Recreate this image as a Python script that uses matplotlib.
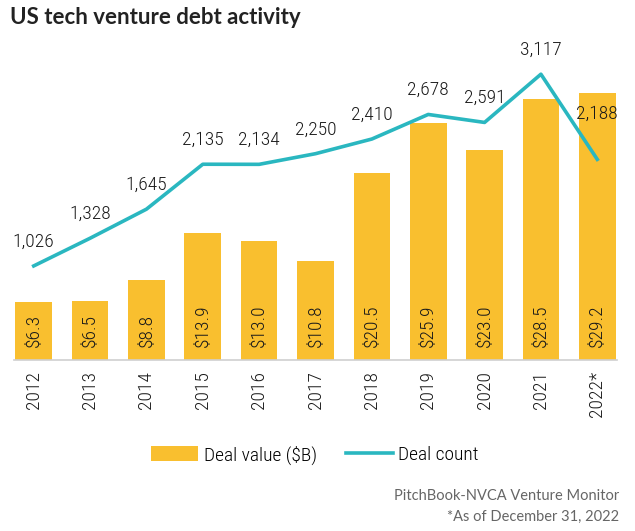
import matplotlib.pyplot as plt
from matplotlib import font_manager
from matplotlib.patches import Patch
from matplotlib.lines import Line2D

years = ['2012', '2013', '2014', '2015', '2016', '2017', '2018', '2019', '2020', '2021', '2022*']
deal_value = [6.3, 6.5, 8.8, 13.9, 13.0, 10.8, 20.5, 25.9, 23.0, 28.5, 29.2]
deal_count = [1026, 1328, 1645, 2135, 2134, 2250, 2410, 2678, 2591, 3117, 2188]

BAR = '#F9BF2F'
LINE = '#2AB7C0'

names = {f.name for f in font_manager.fontManager.ttflist}
wanted = ['Roboto Condensed', 'PT Sans Narrow', 'Archivo Narrow', 'Open Sans Condensed',
          'Barlow Condensed', 'Liberation Sans Narrow']
narrow = [n for n in wanted if n in names][:1] + ['DejaVu Sans']
lbl = dict(family=narrow, fontweight='light', color='#1a1a1a')

fig = plt.figure(figsize=(6.35, 5.31), dpi=100)
ax = fig.add_axes([14 / 635, 171 / 531, 603 / 635, 320 / 531])
ax2 = ax.twinx()

x = range(len(years))
ax.bar(x, deal_value, width=0.65, color=BAR, zorder=1)
ax.set_ylim(0, 35)
ax.set_xlim(-0.35, len(years) - 1 + 0.35)
for i, v in enumerate(deal_value):
    ax.text(i, 1.4, f'${v:.1f}', rotation=90, ha='center', va='bottom',
            fontsize=14, **lbl)

ax2.plot(x, deal_count, color=LINE, lw=2.6, zorder=3)
ax2.set_ylim(0, 3490)
for i, c in enumerate(deal_count):
    dy = 26 if i == len(deal_count) - 1 else 11
    ax2.annotate(f'{c:,}', (i, c), xytext=(0, dy), textcoords='offset points',
                 ha='center', va='bottom', fontsize=14, **lbl)

for a in (ax, ax2):
    for s in ('top', 'right', 'left'):
        a.spines[s].set_visible(False)
    a.set_yticks([])
ax.spines['bottom'].set_visible(False)
ax2.spines['bottom'].set_color('#cfcfcf')
ax2.spines['bottom'].set_linewidth(1.2)

ax.set_xticks(list(x))
ax.set_xticklabels(years, rotation=90, fontsize=14, **lbl)
ax.tick_params(axis='x', length=0, pad=8)

fig.text(10 / 635, 1 - 18 / 531, 'US tech venture debt activity', fontsize=16,
         family='Lato', fontweight='bold', color='#222222', va='center', ha='left')

handles = [Patch(facecolor=BAR, edgecolor='none'), Line2D([0], [0], color=LINE, lw=2.6)]
fig.legend(handles, ['Deal value ($B)', 'Deal count'], loc='center',
           bbox_to_anchor=(315 / 635, 1 - 455 / 531), ncol=2, frameon=False,
           prop={'family': narrow, 'size': 14, 'weight': 'light'}, handlelength=2.4,
           handleheight=0.85, columnspacing=1.5, handletextpad=0.3)

fig.text(619 / 635, 1 - 496 / 531, 'PitchBook-NVCA Venture Monitor', fontsize=10.5,
         family='Lato', color='#666666', ha='right', va='center')
fig.text(619 / 635, 1 - 517 / 531, '*As of December 31, 2022', fontsize=10.5,
         family='Lato', color='#666666', ha='right', va='center')

fig.savefig('out.png', dpi=100)
